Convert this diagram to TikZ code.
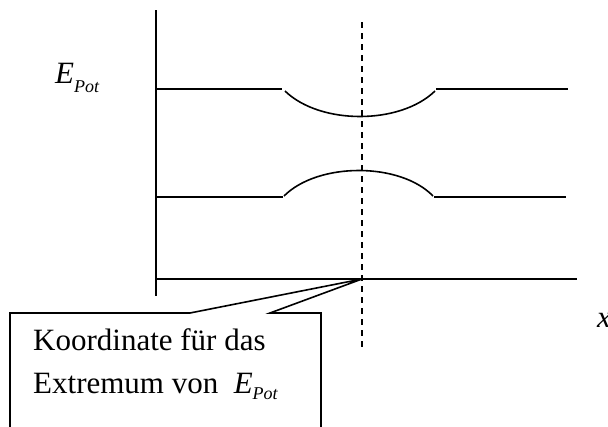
\documentclass[tikz,border=0pt]{standalone}
\usepackage{fontspec}
\setmainfont{Liberation Serif}
\begin{document}
\begin{tikzpicture}[x=1pt,y=-1pt,
  curve/.style={line width=1.6pt,line join=miter},
  guide/.style={line width=1.4pt,dash pattern=on 6pt off 5pt},
  lbl/.style={inner sep=0pt,anchor=base west,font=\fontsize{31}{31}\selectfont}]
\useasboundingbox (0,0) rectangle (608,426);
\clip (0,0) rectangle (608,426);
% axis
\draw[curve] (156,10) -- (156,296);
% upper level with minimum
\draw[curve] (156,89) -- (282,89);
\draw[curve] (285,91) .. controls (320,125) and (400,125) .. (435,91);
\draw[curve] (436,89) -- (568,89);
% middle level with maximum
\draw[curve] (156,197) -- (283,197);
\draw[curve] (284,196) .. controls (318,162) and (400,162) .. (433,196);
\draw[curve] (434,197) -- (566,197);
% base line
\draw[curve] (156,279) -- (577,279);
% dashed guide
\draw[guide] (362,22) -- (362,350);
% callout
\coordinate (tip) at (362,279);
\draw[curve] (10,440) -- (10,313) -- (190,313) -- (tip) -- (270,313) -- (321,313) -- (321,440);
\node[lbl] (t1) at (33,350) {Koordinate für das};
\node[lbl] (t2) at (33,393) {Extremum von \ {\itshape E}\raisebox{-6pt}{\fontsize{18}{18}\selectfont\itshape Pot}};
% axis labels
\node[lbl] (ep) at (55,83) {{\itshape E}\raisebox{-9pt}{\fontsize{18}{18}\selectfont\itshape Pot}};
\node[lbl] (xl) at (597,327) {\itshape x};
\end{tikzpicture}
\end{document}
